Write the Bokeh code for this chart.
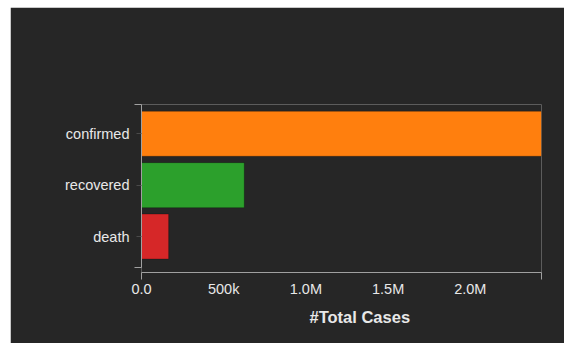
from bokeh.plotting import figure
from bokeh.models import FixedTicker, Range1d, Title, ColumnDataSource
from bokeh.embed import file_html
from bokeh.resources import INLINE

categories = ["confirmed", "recovered", "death"]
cases = [2433000, 625000, 165000]
colors = ["#ff7f0e", "#2ca02c", "#d62728"]
tick_values = [0, 500000, 1000000, 1500000, 2000000]
tick_labels = ["0.0", "500k", "1.0M", "1.5M", "2.0M"]
x_title = "#Total Cases"

n = len(categories)
ypos = [n - 1 - i for i in range(n)]

BG = "#262626"
TXT = "#e8e8e8"
AX = "#a0a0a0"
FONT = "Liberation Sans"

top = n - 0.43
p = figure(width=554, height=336, output_backend="svg", toolbar_location=None,
           x_range=Range1d(0, max(cases)), y_range=Range1d(-0.7, top),
           min_border_left=131, min_border_right=23, min_border_top=97, min_border_bottom=71)
p.margin = (7, 0, 0, 10)
p.background_fill_color = BG
p.border_fill_color = BG
p.outline_line_color = None
p.grid.visible = False

src = ColumnDataSource(dict(y=ypos, right=cases, color=colors))
p.hbar(y="y", right="right", left=0, height=0.875, fill_color="color", source=src,
       line_color="black", line_alpha=0.25, line_width=1)

ya = p.yaxis[0]
ya.ticker = FixedTicker(ticks=ypos, minor_ticks=[-0.6, top])
ya.major_label_overrides = {y: c for y, c in zip(ypos, categories)}
ya.bounds = (-0.6, top)
ya.axis_line_color = AX
ya.major_tick_line_color = "#4a4a4a"
ya.major_tick_out = 5
ya.major_tick_in = 0
ya.minor_tick_line_color = AX
ya.minor_tick_out = 7
ya.minor_tick_in = 0
ya.major_label_standoff = 5
ya.major_label_text_color = TXT
ya.major_label_text_font = FONT
ya.major_label_text_font_size = "14.5px"

xa = p.xaxis[0]
xa.ticker = FixedTicker(ticks=tick_values, minor_ticks=[0, max(cases)])
xa.major_label_overrides = {v: l for v, l in zip(tick_values, tick_labels)}
xa.axis_line_color = AX
xa.major_tick_line_color = None
xa.major_tick_out = 0
xa.major_tick_in = 0
xa.minor_tick_line_color = AX
xa.minor_tick_out = 7
xa.minor_tick_in = 0
xa.major_label_standoff = 1
xa.major_label_text_color = TXT
xa.major_label_text_font = FONT
xa.major_label_text_font_size = "14.5px"

t = Title(text=x_title, align="left", offset=168, text_color=TXT, text_font=FONT,
          text_font_size="16.5px", text_font_style="bold", standoff=12)
p.add_layout(t, "below")

open("out.html", "w").write(file_html(p, INLINE))
